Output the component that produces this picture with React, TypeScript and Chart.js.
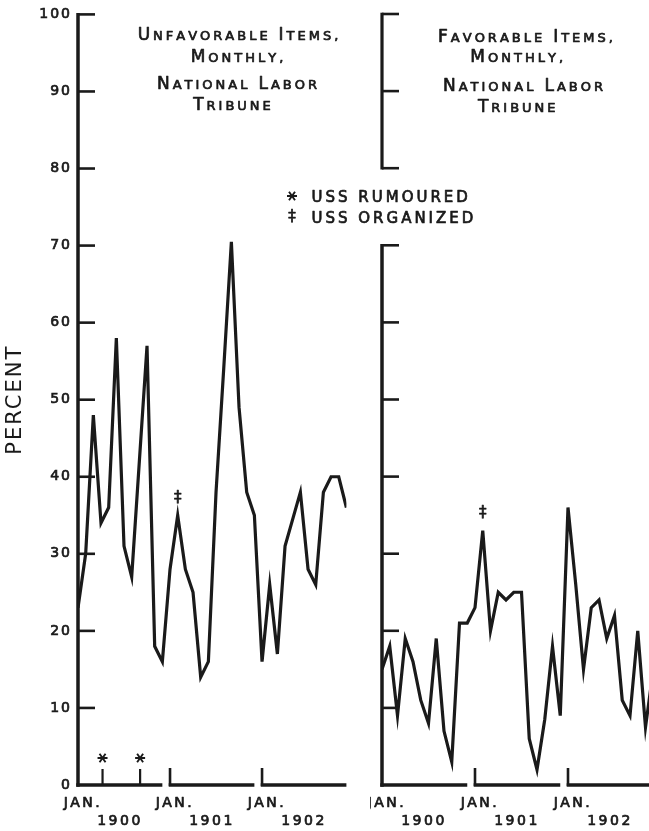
import React, { useEffect, useRef } from "react";
import { Chart, registerables } from "chart.js";

Chart.register(...registerables);

// Share of items per month, Jan. 1900 – Dec. 1902 (percent)
const unfavorableItems = [
  23, 30, 48, 34, 36, 58, 31, 27, 42, 57, 18, 16,
  28, 35, 28, 25, 14, 16, 38, 54, 70.5, 49, 38, 35,
  16, 26, 17, 31, 34.5, 38, 28, 26, 38, 40, 40, 36,
];
const favorableItems = [
  15, 18, 9, 19, 16, 11, 8, 19, 7, 3, 21, 21,
  23, 33, 20, 25, 24, 25, 25, 6, 2, 8.5, 18, 9,
  36, 26, 15, 23, 24, 19, 22, 11, 9, 20, 7.5, 15,
];

const yearLabels = ["1900", "1901", "1902"];
const janLabel = "JAN.";
const leftAxisTicks = [10, 20, 30, 40, 50, 60, 70, 80, 90, 100];
const rightAxisTicks = [10, 20, 30, 40, 50, 60, 70];
const bracketTicks = [80, 90, 100];

const unfavorableTitle = ["Unfavorable Items,", "Monthly,", "National Labor", "Tribune"];
const favorableTitle = ["Favorable Items,", "Monthly,", "National Labor", "Tribune"];
const legendRumoured = "USS RUMOURED";
const legendOrganized = "USS ORGANIZED";
const rumouredMonths = [3.2, 8.1];
const organizedMonth = 13;

const INK = "#1a1a1a";
const FONT = '"DejaVu Sans", sans-serif';
const TEXT_WEIGHT = 0.7; // extra outline so the lettering reads a little heavier

type PanelConfig = {
  series: number[];
  axisTicks: number[];
  axisTop: number;
  bracket?: number[];
  title: string[];
  titleCenters: number[];
  titleBaselines: number[];
  rumoured?: number[];
  legendAt?: { x: number; y: number };
};

function heavyText(ctx: CanvasRenderingContext2D, text: string, x: number, y: number) {
  ctx.fillText(text, x, y);
  ctx.save();
  ctx.lineWidth = TEXT_WEIGHT;
  ctx.lineJoin = "round";
  ctx.strokeText(text, x, y);
  ctx.restore();
}

// Draws lettering with large initials and small capitals for the rest
function drawSmallCaps(
  ctx: CanvasRenderingContext2D,
  text: string,
  cx: number,
  baseline: number,
  big: number,
  small: number,
  spacing: number,
  gap: number
) {
  ctx.letterSpacing = "0px";
  const parts = [...text].map((ch) => {
    const isBig = ch !== ch.toLowerCase();
    const size = isBig ? big : small;
    ctx.font = `${size}px ${FONT}`;
    const w = ch === " " ? gap : ctx.measureText(ch.toUpperCase()).width + spacing;
    return { ch: ch.toUpperCase(), size, w };
  });
  const total = parts.reduce((s, p) => s + p.w, 0) - spacing;
  let x = cx - total / 2;
  ctx.textAlign = "left";
  ctx.textBaseline = "alphabetic";
  parts.forEach((p) => {
    if (p.ch !== " ") {
      ctx.font = `${p.size}px ${FONT}`;
      heavyText(ctx, p.ch, x, baseline);
    }
    x += p.w;
  });
}

function drawAsterisk(ctx: CanvasRenderingContext2D, cx: number, cy: number, r: number) {
  ctx.lineWidth = 1.9;
  ctx.beginPath();
  ctx.moveTo(cx - r, cy);
  ctx.lineTo(cx + r, cy);
  ctx.moveTo(cx - r * 0.6, cy - r * 0.85);
  ctx.lineTo(cx + r * 0.6, cy + r * 0.85);
  ctx.moveTo(cx + r * 0.6, cy - r * 0.85);
  ctx.lineTo(cx - r * 0.6, cy + r * 0.85);
  ctx.stroke();
}

function makePanelPlugin(cfg: PanelConfig) {
  return {
    id: "panelFrame",
    beforeDraw(chart: any) {
      chart.ctx.letterSpacing = "2px";
    },
    afterDraw(chart: any) {
      const { ctx, chartArea } = chart;
      const xs = chart.scales.x;
      const ys = chart.scales.y;
      const left = chartArea.left;
      const base = ys.getPixelForValue(0);
      const seg = (x1: number, y1: number, x2: number, y2: number, w: number) => {
        ctx.lineWidth = w;
        ctx.beginPath();
        ctx.moveTo(x1, y1);
        ctx.lineTo(x2, y2);
        ctx.stroke();
      };

      ctx.save();
      ctx.strokeStyle = INK;
      ctx.fillStyle = INK;
      ctx.lineCap = "butt";

      // vertical axis with inward ticks
      seg(left, ys.getPixelForValue(cfg.axisTop) - 1.3, left, base + 1.75, 3.5);
      cfg.axisTicks.forEach((v) => {
        const p = ys.getPixelForValue(v);
        seg(left, p, left + 17, p, 2.6);
      });

      // bracket above the shortened axis
      if (cfg.bracket) {
        const top = ys.getPixelForValue(Math.max(...cfg.bracket));
        const bottom = ys.getPixelForValue(Math.min(...cfg.bracket));
        seg(left, top - 1.3, left, bottom + 1.3, 3.2);
        cfg.bracket.forEach((v) => {
          const p = ys.getPixelForValue(v);
          seg(left, p, left + 17, p, 2.6);
        });
      }

      // one baseline per year, with a tick at January
      yearLabels.forEach((label, k) => {
        const a = xs.getPixelForValue(k * 12);
        const b = xs.getPixelForValue(k * 12 + 11);
        seg(k === 0 ? left - 1.75 : a - 1.3, base, b, base, 3.5);
        if (k > 0) seg(a, base + 1, a, base - 17, 2.6);
        ctx.font = `14px ${FONT}`;
        ctx.letterSpacing = "2.5px";
        ctx.textAlign = "center";
        ctx.textBaseline = "alphabetic";
        heavyText(ctx, janLabel, a + 5, base + 22);
        heavyText(ctx, label, a + 42, base + 40);
      });

      // rumour marks
      (cfg.rumoured || []).forEach((m) => {
        const p = xs.getPixelForValue(m);
        seg(p, base, p, base - 16, 2.2);
        drawAsterisk(ctx, p, base - 27, 5);
      });

      // organization mark above the series
      ctx.font = `15px ${FONT}`;
      ctx.letterSpacing = "0px";
      ctx.textAlign = "center";
      ctx.textBaseline = "middle";
      heavyText(
        ctx,
        "‡",
        xs.getPixelForValue(organizedMonth),
        ys.getPixelForValue(cfg.series[organizedMonth]) - 17
      );

      // legend
      if (cfg.legendAt) {
        const { x, y } = cfg.legendAt;
        drawAsterisk(ctx, x, y - 6, 5);
        heavyText(ctx, "‡", x, y + 15);
        ctx.font = `15px ${FONT}`;
        ctx.letterSpacing = "3px";
        ctx.textAlign = "left";
        ctx.textBaseline = "alphabetic";
        heavyText(ctx, legendRumoured, x + 19.5, y);
        heavyText(ctx, legendOrganized, x + 19.5, y + 21);
      }

      // panel heading
      cfg.title.forEach((line, i) => {
        drawSmallCaps(ctx, line, cfg.titleCenters[i], cfg.titleBaselines[i], 17, 13, 3, 8);
      });

      ctx.restore();
    },
  };
}

function buildChart(
  canvas: HTMLCanvasElement,
  cfg: PanelConfig,
  padding: { left: number; right: number; top: number; bottom: number },
  showAxis: boolean
) {
  return new Chart(canvas, {
    type: "line",
    data: {
      datasets: [
        {
          data: cfg.series.map((v, i) => ({ x: i, y: v })),
          borderColor: INK,
          borderWidth: 3.2,
          pointRadius: 0,
          tension: 0,
          borderJoinStyle: "miter",
          borderCapStyle: "butt",
          fill: false,
        },
      ],
    },
    options: {
      animation: false,
      responsive: false,
      maintainAspectRatio: false,
      layout: { padding },
      events: [],
      plugins: {
        legend: { display: false },
        tooltip: { enabled: false },
      },
      scales: {
        x: { type: "linear", min: 0, max: 35, display: false },
        y: {
          type: "linear",
          min: 0,
          max: 100,
          display: showAxis,
          afterFit: (scale: any) => {
            if (showAxis) scale.width = 78;
          },
          border: { display: false },
          grid: { display: false, drawTicks: false },
          ticks: {
            stepSize: 10,
            padding: 6,
            color: INK,
            textStrokeColor: INK,
            textStrokeWidth: TEXT_WEIGHT,
            font: { family: FONT, size: 14 },
          },
          title: {
            display: true,
            text: "PERCENT",
            color: INK,
            font: { family: FONT, size: 21 },
            padding: { top: 3, bottom: 0 },
          },
        },
      },
    },
    plugins: [makePanelPlugin(cfg)],
  } as any);
}

export default function App() {
  const leftRef = useRef<HTMLCanvasElement | null>(null);
  const rightRef = useRef<HTMLCanvasElement | null>(null);

  useEffect(() => {
    const leftChart = buildChart(
      leftRef.current!,
      {
        series: unfavorableItems,
        axisTicks: leftAxisTicks,
        axisTop: 100,
        title: unfavorableTitle,
        titleCenters: [238, 237, 237, 232],
        titleBaselines: [40, 62, 89, 110],
        rumoured: rumouredMonths,
        legendAt: { x: 292, y: 202 },
      },
      { left: 0, right: 490 - 346.4, top: 14, bottom: 831 - 785 },
      true
    );
    const rightChart = buildChart(
      rightRef.current!,
      {
        series: favorableItems,
        axisTicks: rightAxisTicks,
        axisTop: 70,
        bracket: bracketTicks,
        title: favorableTitle,
        titleCenters: [155.5, 146.7, 153, 146.7],
        titleBaselines: [41.5, 62, 91, 111.5],
      },
      { left: 12, right: 300 - 283.25, top: 14, bottom: 831 - 785 },
      false
    );
    return () => {
      leftChart.destroy();
      rightChart.destroy();
    };
  }, []);

  return (
    <div
      style={{
        position: "absolute",
        left: 0,
        top: 0,
        width: 649,
        height: 831,
        overflow: "hidden",
        background: "#ffffff",
      }}
    >
      <canvas ref={leftRef} width={490} height={831} style={{ position: "absolute", left: 0, top: 0 }} />
      <canvas ref={rightRef} width={300} height={831} style={{ position: "absolute", left: 370, top: 0 }} />
    </div>
  );
}
